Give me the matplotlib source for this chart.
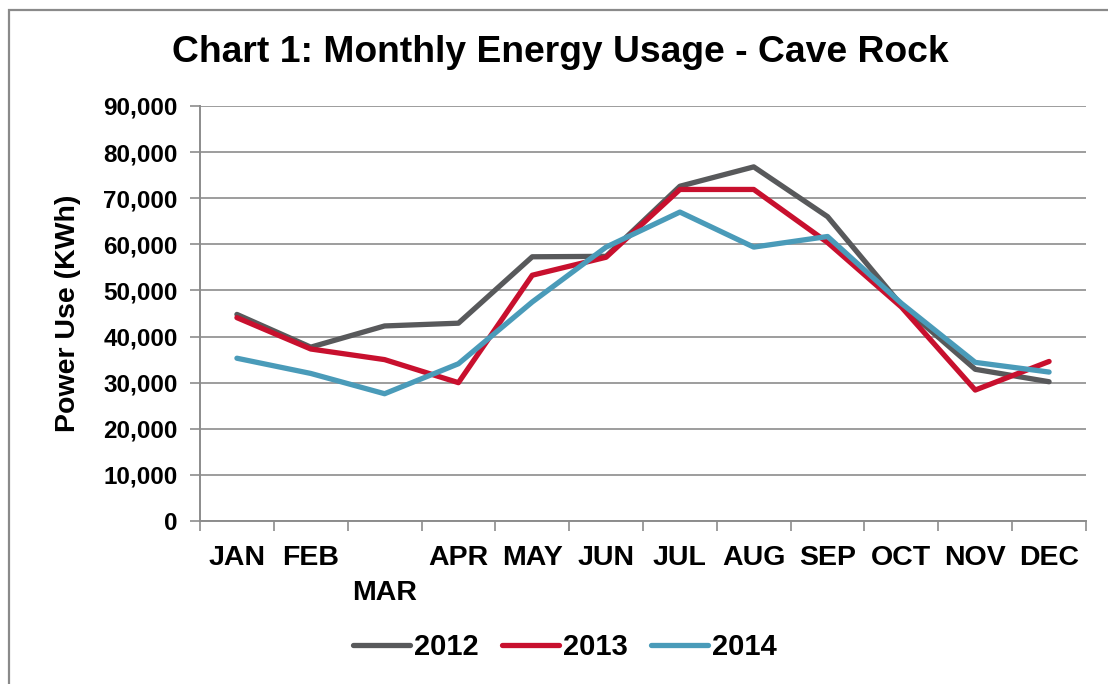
import numpy as np
import matplotlib
matplotlib.use("Agg")
import matplotlib.pyplot as plt
from matplotlib.patches import Rectangle
from matplotlib.ticker import FuncFormatter

# data
months = ["JAN", "FEB", "MAR", "APR", "MAY", "JUN",
          "JUL", "AUG", "SEP", "OCT", "NOV", "DEC"]
use_2012 = [44800, 37700, 42300, 42900, 57300, 57400,
            72600, 76800, 66000, 46800, 32900, 30200]
use_2013 = [44100, 37300, 35000, 30000, 53300, 57200,
            71900, 71900, 60400, 46400, 28400, 34600]
use_2014 = [35300, 32000, 27600, 34100, 47500, 59400,
            67000, 59400, 61700, 47200, 34400, 32300]

plt.rcParams['font.family'] = ['Liberation Sans', 'DejaVu Sans']
plt.rcParams['font.weight'] = 'bold'

fig = plt.figure(figsize=(11.08, 6.84), dpi=100)
ax = fig.add_axes([200 / 1108, 1 - 521 / 684, 886 / 1108, 415 / 684])

# outer chart frame
fig.patches.append(Rectangle((9 / 1108, -0.05), 1.1, 1 - 10 / 684 + 0.05,
                             transform=fig.transFigure, fill=False,
                             edgecolor='#8a8a8a', linewidth=1.6))

x = np.arange(len(months))
ax.plot(x, use_2012, color='#58595b', lw=3.8, label='2012', solid_capstyle='round')
ax.plot(x, use_2013, color='#c8102e', lw=3.8, label='2013', solid_capstyle='round')
ax.plot(x, use_2014, color='#4a9bb9', lw=3.8, label='2014', solid_capstyle='round')

ax.set_xlim(-0.5, 11.5)
ax.set_ylim(0, 90000)
ax.set_yticks(np.arange(0, 90001, 10000))
ax.yaxis.set_major_formatter(FuncFormatter(lambda v, p: f"{int(v):,}"))
ax.grid(axis='y', color='#8c8c8c', lw=1.2)
ax.set_axisbelow(True)

# ticks on category boundaries, labels at centres (MAR staggered)
ax.set_xticks(np.arange(-0.5, 12, 1))
ax.set_xticklabels([])
ax.set_xticks(x, minor=True)
labels = [("\n" + m if m == "MAR" else m) for m in months]
ax.set_xticklabels(labels, minor=True)
for lab in ax.get_xticklabels(minor=True):
    lab.set_linespacing(1.45)
ax.tick_params(axis='x', which='minor', length=0, pad=17, labelsize=20.5)
ax.tick_params(axis='x', which='major', length=7, color='#8c8c8c', width=1.2)
ax.tick_params(axis='y', length=7, color='#8c8c8c', width=1.2, labelsize=17.5, pad=9)

for s in ['top', 'right']:
    ax.spines[s].set_visible(False)
for s in ['left', 'bottom']:
    ax.spines[s].set_color('#8c8c8c')
    ax.spines[s].set_linewidth(1.4)

ax.set_ylabel("Power Use (KWh)", fontsize=20.5, fontweight='bold', labelpad=16)
fig.text(560 / 1108, 1 - 53 / 684, "Chart 1: Monthly Energy Usage - Cave Rock",
         ha='center', va='center', fontsize=26.8, fontweight='bold')

fig.legend(loc='center', bbox_to_anchor=(565 / 1108, 1 - 647 / 684), ncol=3,
           frameon=False, fontsize=21, handlelength=1.95, handletextpad=0.14,
           columnspacing=0.8)

fig.savefig("out.png", dpi=100)
